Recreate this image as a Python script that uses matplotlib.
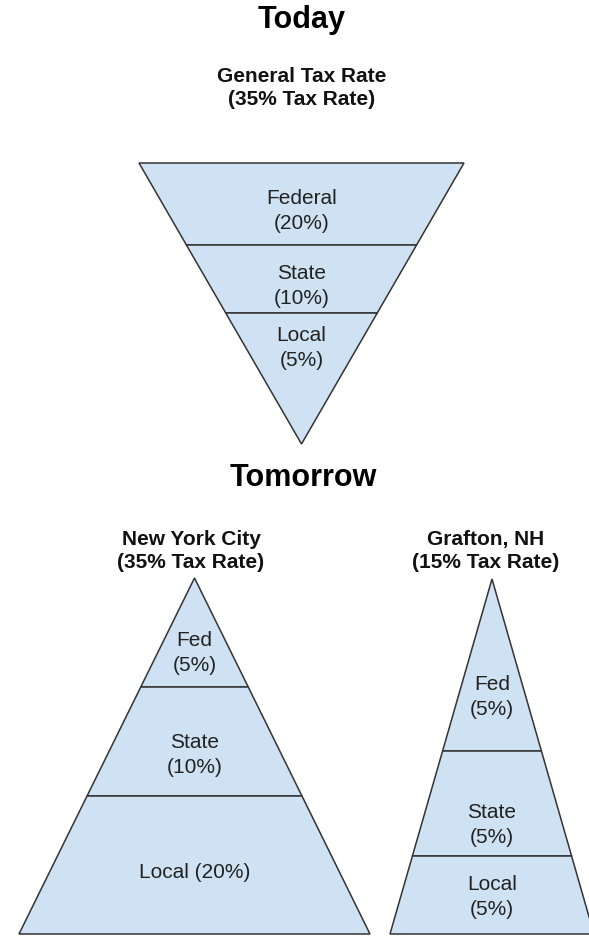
import matplotlib.pyplot as plt
from matplotlib.patches import Polygon

# data
today_layers = ["Federal", "State", "Local"]
today_rates = [20, 10, 5]
nyc_layers = ["Fed", "State", "Local"]
nyc_rates = [5, 10, 20]
grafton_layers = ["Fed", "State", "Local"]
grafton_rates = [5, 5, 5]
section_titles = ["Today", "Tomorrow"]
shape_names = ["General Tax Rate", "New York City", "Grafton, NH"]

FILL = "#cfe2f3"
EDGE = "#333333"
TEXT = "#222222"
FONT = ["Liberation Sans", "DejaVu Sans"]


def half_width(y, tip_y, base_y, base_half):
    return base_half * (y - tip_y) / (base_y - tip_y)


def draw_triangle(ax, cx, tip_y, base_y, base_half, cuts, layers, rates,
                  label_ys, one_line=()):
    edges = [tip_y] + list(cuts) + [base_y]
    if tip_y > base_y:
        # inverted: layers listed from the wide side
        edges = edges[::-1]
    for i, (y0, y1) in enumerate(zip(edges[:-1], edges[1:])):
        w0 = half_width(y0, tip_y, base_y, base_half)
        w1 = half_width(y1, tip_y, base_y, base_half)
        pts = [(cx - w0, y0), (cx + w0, y0), (cx + w1, y1), (cx - w1, y1)]
        ax.add_patch(Polygon(pts, closed=True, facecolor=FILL,
                             edgecolor=EDGE, linewidth=1.1, joinstyle="miter"))
    for i, (name, rate, ly) in enumerate(zip(layers, rates, label_ys)):
        sep = " " if i in one_line else "\n"
        ax.text(cx, ly, f"{name}{sep}({rate}%)", ha="center", va="center",
                fontsize=15, color=TEXT, family=FONT, linespacing=1.35)


fig = plt.figure(figsize=(5.89, 9.36), dpi=100)
ax = fig.add_axes([0, 0, 1, 1])
ax.set_xlim(0, 589)
ax.set_ylim(936, 0)
ax.axis("off")

# section headings
ax.text(302, 20, section_titles[0], ha="center", va="center", fontsize=22,
        fontweight="bold", family=FONT, color="black")
ax.text(303, 478, section_titles[1], ha="center", va="center", fontsize=22,
        fontweight="bold", family=FONT, color="black")

# shape headings
ax.text(302, 88, f"{shape_names[0]}\n({sum(today_rates)}% Tax Rate)",
        ha="center", va="center", fontsize=15, fontweight="bold",
        family=FONT, color="#111111", linespacing=1.3)
ax.text(191, 551, f"{shape_names[1]}\n({sum(nyc_rates)}% Tax Rate)",
        ha="center", va="center", fontsize=15, fontweight="bold",
        family=FONT, color="#111111", linespacing=1.3)
ax.text(486, 551, f"{shape_names[2]}\n({sum(grafton_rates)}% Tax Rate)",
        ha="center", va="center", fontsize=15, fontweight="bold",
        family=FONT, color="#111111", linespacing=1.3)

# today: inverted triangle, wide side on top
draw_triangle(ax, 301.5, 444, 163, 162.5, [313, 245],
              today_layers, today_rates, [211, 286, 348])

# tomorrow
draw_triangle(ax, 194.5, 578, 934, 175.5, [687, 796],
              nyc_layers, nyc_rates, [653, 755, 872], one_line=(2,))
draw_triangle(ax, 492, 579, 934, 102, [751, 856],
              grafton_layers, grafton_rates, [697, 825, 897])

fig.savefig("out.png", dpi=100, facecolor="white")
